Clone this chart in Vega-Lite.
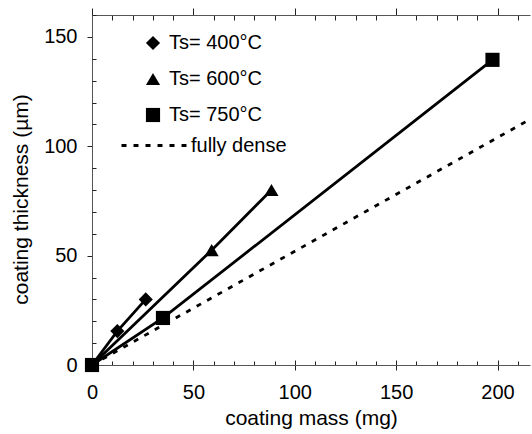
{
  "$schema": "https://vega.github.io/schema/vega-lite/v6.json",
  "autosize": {"type": "none"},
  "padding": {"left": 92, "top": 15, "right": 2, "bottom": 69},
  "width": 438,
  "height": 350,
  "background": "white",
  "config": {
    "font": "Liberation Sans",
    "view": {"stroke": null},
    "axis": {
      "grid": false,
      "labelFont": "Liberation Sans",
      "labelFontSize": 20,
      "labelColor": "black",
      "labelFlush": false,
      "titleFont": "Liberation Sans",
      "titleFontSize": 21,
      "titleFontWeight": "normal",
      "titleColor": "black",
      "domainColor": "#555",
      "domainWidth": 1,
      "tickColor": "#222",
      "tickWidth": 1
    },
    "legend": {
      "labelFont": "Liberation Sans",
      "labelFontSize": 20,
      "labelColor": "black",
      "labelLimit": 400,
      "padding": 0,
      "titlePadding": 0
    }
  },
  "data": {
    "values": [
      {"series": "Ts= 400°C", "mass": 0, "thickness": 0},
      {"series": "Ts= 400°C", "mass": 12.5, "thickness": 15.5},
      {"series": "Ts= 400°C", "mass": 26.5, "thickness": 30},
      {"series": "Ts= 600°C", "mass": 0, "thickness": 0},
      {"series": "Ts= 600°C", "mass": 59, "thickness": 52.5},
      {"series": "Ts= 600°C", "mass": 88.5, "thickness": 80},
      {"series": "Ts= 750°C", "mass": 0, "thickness": 0},
      {"series": "Ts= 750°C", "mass": 35, "thickness": 21.5},
      {"series": "Ts= 750°C", "mass": 197.5, "thickness": 139.5},
      {"series": "fully dense", "mass": 0, "thickness": 0},
      {"series": "fully dense", "mass": 216, "thickness": 112.3}
    ]
  },
  "resolve": {"axis": {"x": "independent", "y": "independent"}},
  "layer": [
    {
      "transform": [{"filter": "datum.series === 'fully dense'"}],
      "mark": {"type": "line", "color": "black", "strokeWidth": 2.8},
      "encoding": {
        "x": {
          "field": "mass", "type": "quantitative",
          "scale": {"domain": [0, 216], "nice": false, "zero": false},
          "axis": {
            "orient": "bottom", "title": "coating mass (mg)",
            "values": [0, 50, 100, 150, 200],
            "domain": false, "offset": -5, "tickSize": 10, "labelPadding": 12,
            "titleX": 219, "titleY": 64, "titleBaseline": "alphabetic", "titleAlign": "center"
          }
        },
        "y": {
          "field": "thickness", "type": "quantitative",
          "scale": {"domain": [0, 160], "nice": false, "zero": false},
          "axis": {
            "orient": "left", "title": "coating thickness (µm)",
            "values": [0, 50, 100, 150],
            "domain": true, "tickSize": 5, "labelPadding": 10,
            "titleX": -65, "titleY": 184, "titleAngle": -90,
            "titleBaseline": "alphabetic", "titleAlign": "center"
          }
        },
        "strokeDash": {
          "field": "series", "type": "nominal",
          "scale": {"domain": ["fully dense"], "range": [[5, 7]]},
          "legend": {
            "title": null, "orient": "none", "legendX": 28, "legendY": 95,
            "symbolType": "stroke", "symbolSize": 4624, "symbolStrokeWidth": 3,
            "symbolStrokeColor": "black", "symbolDash": [4, 6], "labelOffset": 0,
            "encode": {"symbols": {"enter": {"strokeDash": {"value": [4, 6]}}, "update": {"strokeDash": {"value": [4, 6]}}}}
          }
        }
      }
    },
    {
      "transform": [{"filter": "datum.series !== 'fully dense'"}],
      "mark": {"type": "line", "color": "black", "strokeWidth": 2.8},
      "encoding": {
        "x": {
          "field": "mass", "type": "quantitative",
          "scale": {"domain": [0, 216], "nice": false, "zero": false},
          "axis": {
            "orient": "bottom", "title": null, "labels": false, "domain": true,
            "values": [10, 20, 30, 40, 60, 70, 80, 90, 110, 120, 130, 140, 160, 170, 180, 190, 210],
            "tickSize": -4
          }
        },
        "y": {
          "field": "thickness", "type": "quantitative",
          "scale": {"domain": [0, 160], "nice": false, "zero": false},
          "axis": {
            "orient": "left", "title": null, "labels": false, "domain": false,
            "values": [10, 20, 30, 40, 60, 70, 80, 90, 110, 120, 130, 140, 160],
            "tickSize": -4
          }
        },
        "detail": {"field": "series", "type": "nominal"}
      }
    },
    {
      "transform": [{"filter": "datum.series !== 'fully dense'"}],
      "mark": {"type": "point", "filled": true, "color": "black", "opacity": 1, "size": 200},
      "encoding": {
        "x": {
          "field": "mass", "type": "quantitative",
          "scale": {"domain": [0, 216], "nice": false, "zero": false},
          "axis": {
            "orient": "top", "title": null, "labels": false, "domain": true,
            "values": [0, 10, 20, 30, 40, 50, 60, 70, 80, 90, 100, 110, 120, 130, 140, 150, 160, 170, 180, 190, 200, 210],
            "tickSize": {"condition": {"test": "datum.value % 50 === 0", "value": 7}, "value": -5}
          }
        },
        "y": {
          "field": "thickness", "type": "quantitative",
          "scale": {"domain": [0, 160], "nice": false, "zero": false},
          "axis": null
        },
        "shape": {
          "field": "series", "type": "nominal",
          "scale": {
            "domain": ["Ts= 400°C", "Ts= 600°C", "Ts= 750°C"],
            "range": ["diamond", "triangle-up", "square"]
          },
          "legend": {
            "title": null, "orient": "none", "legendX": 51, "legendY": 18,
            "symbolSize": 200, "symbolFillColor": "black", "symbolStrokeColor": "black",
            "symbolOpacity": 1, "labelOffset": 6, "rowPadding": 15
          }
        }
      }
    }
  ]
}
